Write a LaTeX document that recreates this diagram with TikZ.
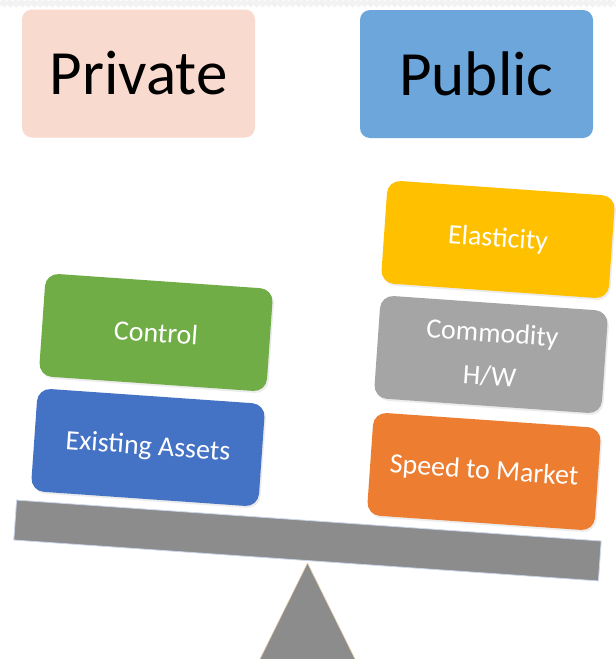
\documentclass[tikz,border=0pt]{standalone}
\usepackage{fontspec}
\setmainfont{Carlito}
\usetikzlibrary{shadows,decorations.pathmorphing}
\definecolor{privfill}{HTML}{F9DACF}
\definecolor{pubfill}{HTML}{6DA6DA}
\definecolor{greenbox}{HTML}{70AD47}
\definecolor{bluebox}{HTML}{4472C4}
\definecolor{yellowbox}{HTML}{FFC000}
\definecolor{graybox}{HTML}{A5A5A5}
\definecolor{orangebox}{HTML}{ED7D31}
\definecolor{beamgray}{HTML}{8C8C8C}
\definecolor{beamedge}{HTML}{CBD5EA}
\definecolor{baseedge}{HTML}{EBD3B5}
\tikzset{
  header/.style={rounded corners=10pt, minimum width=233pt, minimum height=128pt,
    inner sep=0pt, font=\fontsize{63}{70}\selectfont, text=black},
  itembox/.style={rounded corners=13pt, minimum width=228pt, minimum height=103pt,
    inner sep=0pt, rotate=-4, text=white, align=center,
    font=\fontsize{28}{43}\selectfont,
    drop shadow={opacity=0.15, shadow xshift=1.5pt, shadow yshift=-2pt}},
  beamstyle/.style={fill=beamgray, draw=beamedge, line width=0.8pt, minimum width=586pt,
    minimum height=40pt, inner sep=0pt, rotate=-4},
}
\begin{document}
\begin{tikzpicture}[x=1pt,y=-1pt]
\useasboundingbox (0,0) rectangle (616,659);
\clip (0,0) rectangle (616,659);
\fill[white] (0,0) rectangle (616,659);
% faint torn top edge
\fill[black!5, decorate, decoration={zigzag, segment length=6pt, amplitude=1.5pt}]
  (0,6) -- (616,6) -- (616,0) -- (0,0) -- cycle;
% headers
\node[header, fill=privfill] (private) at (138.5,73.5) {Private};
\node[header, fill=pubfill] (public) at (476.5,74) {Public};
% fulcrum
\filldraw[fill=beamgray, draw=baseedge, line width=0.6pt]
  (307.5,563) -- (356.5,662) -- (258.5,662) -- cycle;
% beam
\node[beamstyle] (beam) at (307.5,540.5) {};
% left stack
\node[itembox, fill=greenbox] (control) at (156,332.5) {Control};
\node[itembox, fill=bluebox] (assets) at (148,447.5) {Existing Assets};
% right stack
\node[itembox, fill=yellowbox] (elastic) at (498,239.5) {Elasticity};
\node[itembox, fill=graybox] (commodity) at (491,354.5) {Commodity\\H/W};
\node[itembox, fill=orangebox] (speed) at (484,471.5) {Speed to Market};
\end{tikzpicture}
\end{document}
